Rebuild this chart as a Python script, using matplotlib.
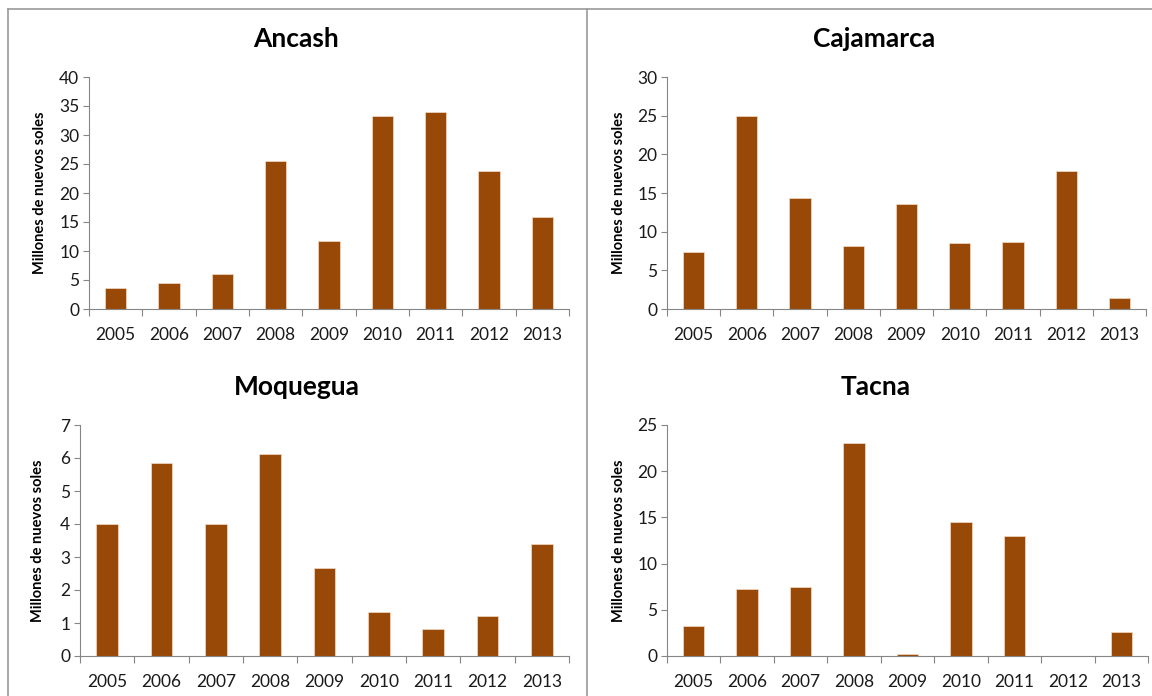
import matplotlib
matplotlib.use('Agg')
import matplotlib.pyplot as plt
from matplotlib.lines import Line2D
import numpy as np

plt.rcParams['font.family'] = ['Lato', 'DejaVu Sans']

years = ['2005', '2006', '2007', '2008', '2009', '2010', '2011', '2012', '2013']

ancash = [3.6, 4.4, 6.0, 25.6, 11.7, 33.3, 34.0, 23.8, 15.8]
cajamarca = [7.4, 24.9, 14.4, 8.2, 13.6, 8.5, 8.6, 17.8, 1.4]
moquegua = [4.0, 5.85, 4.0, 6.12, 2.68, 1.32, 0.82, 1.22, 3.38]
tacna = [3.2, 7.2, 7.5, 23.0, 0.18, 14.45, 13.0, 0.0, 2.64]

regions = ['Ancash', 'Cajamarca', 'Moquegua', 'Tacna']
series = [ancash, cajamarca, moquegua, tacna]
ymax = [40, 30, 7, 25]
ystep = [5, 5, 1, 5]

W, H = 1152, 696
bar_color = '#984807'
spine_color = '#868686'

# pixel boxes (left, right, top, bottom) of each plot area
boxes = [(89, 569, 77, 309), (667, 1146, 77, 309),
         (80, 569, 425, 656), (667, 1148, 425, 656)]
title_pos = [(296, 39), (874, 39), (297, 387), (876, 387)]
ylab_x = [40, 619, 38, 619]

fig = plt.figure(figsize=(W / 100, H / 100), dpi=100)

for i, name in enumerate(regions):
    l, r, t, b = boxes[i]
    ax = fig.add_axes([l / W, 1 - b / H, (r - l) / W, (b - t) / H])
    x = np.arange(len(years))
    ax.bar(x, series[i], width=0.4, color=bar_color, edgecolor='#f2dcc8', linewidth=0.5)
    ax.set_xlim(-0.5, len(years) - 0.5)
    ax.set_ylim(0, ymax[i])
    ticks = np.arange(0, ymax[i] + 0.1, ystep[i])
    ax.set_yticks(ticks)
    ax.set_yticklabels([str(int(v)) for v in ticks])
    ax.set_xticks(x)
    ax.set_xticklabels(years)
    ax.set_xticks(np.arange(-0.5, len(years)), minor=True)
    ax.tick_params(axis='x', which='major', length=0, pad=13, labelsize=12.5, colors='#1a1a1a')
    ax.tick_params(axis='x', which='minor', length=5, width=0.8, color=spine_color, direction='out')
    ax.tick_params(axis='y', length=4, width=0.8, color=spine_color, labelsize=12.5,
                   labelcolor='#1a1a1a', pad=3)
    for s in ['top', 'right']:
        ax.spines[s].set_visible(False)
    for s in ['left', 'bottom']:
        ax.spines[s].set_color(spine_color)
        ax.spines[s].set_linewidth(0.8)
    tx, ty = title_pos[i]
    fig.text(tx / W, 1 - ty / H, name, ha='center', va='center', fontsize=19, fontweight='bold')
    fig.text(ylab_x[i] / W, 1 - (t + b) / 2 / H, 'Millones de nuevos soles', rotation=90,
             ha='center', va='center', fontsize=10.5, fontweight='bold')

# chart borders
bc = '#9a9a9a'
fig.add_artist(Line2D([8 / W, 1], [1 - 9 / H, 1 - 9 / H], color=bc, lw=1.2))
fig.add_artist(Line2D([8 / W, 8 / W], [0, 1 - 9 / H], color=bc, lw=1.2))
fig.add_artist(Line2D([587 / W, 587 / W], [0, 1 - 9 / H], color=bc, lw=1.2))

fig.savefig('out.png', dpi=100)
